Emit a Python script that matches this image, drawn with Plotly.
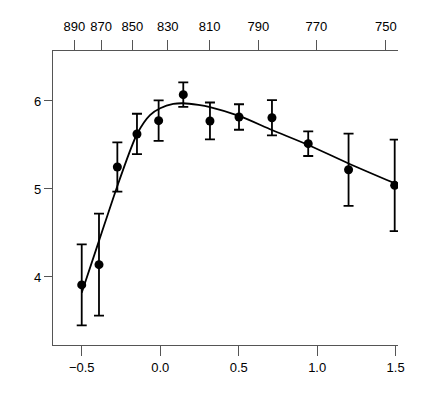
import plotly.graph_objects as go

# Data points (bottom axis) with symmetric error bars
x_pts = [-0.5, -0.39, -0.273, -0.148, -0.01, 0.147, 0.317, 0.502, 0.712, 0.943, 1.20, 1.494]
y_pts = [3.91, 4.14, 5.25, 5.625, 5.776, 6.072, 5.773, 5.818, 5.81, 5.515, 5.219, 5.041]
y_err = [0.46, 0.58, 0.28, 0.23, 0.23, 0.14, 0.21, 0.145, 0.20, 0.14, 0.41, 0.52]

# Fitted curve
curve_x = [-0.5, -0.39, -0.26, -0.146, -0.065, 0.0, 0.083, 0.147, 0.243, 0.317, 0.502, 0.712, 0.943, 1.2, 1.5]
curve_y = [3.82, 4.41, 5.10, 5.63, 5.84, 5.917, 5.966, 5.974, 5.955, 5.93, 5.83, 5.67, 5.50, 5.29, 5.06]

# Bottom axis ticks
bottom_ticks = [-0.5, 0.0, 0.5, 1.0, 1.5]
bottom_labels = ["\u22120.5", "0.0", "0.5", "1.0", "1.5"]

# Top axis ticks (wavelength labels) and their positions on the bottom scale
top_labels = ["890", "870", "850", "830", "810", "790", "770", "750"]
top_pos = [-0.547, -0.377, -0.178, 0.048, 0.315, 0.625, 0.995, 1.437]

y_ticks = [4, 5, 6]

x_range = [-0.683, 1.515]
y_range = [3.227, 6.568]

axis_col = "#555555"
font = dict(family="Liberation Sans, Arial, sans-serif", size=13, color="black")

fig = go.Figure()
fig.add_trace(go.Scatter(x=curve_x, y=curve_y, mode="lines",
                         line=dict(color="black", width=1.8, shape="spline", smoothing=0.8),
                         hoverinfo="skip", showlegend=False))
fig.add_trace(go.Scatter(x=x_pts, y=y_pts, mode="markers",
                         marker=dict(color="black", size=9),
                         error_y=dict(type="data", array=y_err, visible=True,
                                      color="black", thickness=1.8, width=5),
                         showlegend=False))
fig.add_trace(go.Scatter(x=top_pos, y=[None]*len(top_pos), xaxis="x2", mode="markers",
                         marker=dict(opacity=0), showlegend=False, hoverinfo="skip"))

fig.update_layout(
    width=436, height=397,
    margin=dict(l=45, r=46, t=43, b=60, autoexpand=False),
    paper_bgcolor="white", plot_bgcolor="white",
    font=font,
    xaxis=dict(range=x_range, tickvals=bottom_ticks, ticktext=bottom_labels,
               ticks="outside", ticklen=10, tickwidth=1.3, tickcolor=axis_col,
               showline=True, linecolor=axis_col, linewidth=1.3, mirror=False,
               showgrid=False, zeroline=False, tickfont=font),
    xaxis2=dict(range=x_range, overlaying="x", side="top", anchor="y",
                tickvals=top_pos, ticktext=top_labels,
                ticks="outside", ticklen=10, tickwidth=1.3, tickcolor=axis_col,
                showline=True, linecolor=axis_col, linewidth=1.3,
                ticklabelstandoff=4,
                showgrid=False, zeroline=False, tickfont=font),
    yaxis=dict(range=y_range, tickvals=y_ticks, ticks="outside", ticklen=8,
               tickwidth=1.3, tickcolor=axis_col,
               showline=True, linecolor=axis_col, linewidth=1.3, mirror=False,
               showgrid=False, zeroline=False, tickfont=font),
)

fig.write_html("out.html")
